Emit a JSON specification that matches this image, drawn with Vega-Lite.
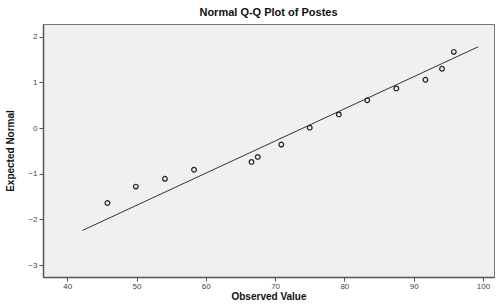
{
  "$schema": "https://vega.github.io/schema/vega-lite/v6.json",
  "autosize": "none",
  "width": 451,
  "height": 253,
  "padding": {"left": 43, "top": 24, "right": 2, "bottom": 27},
  "background": "white",
  "title": {"text": "Normal Q-Q Plot of Postes", "font": "Liberation Sans", "fontSize": 11, "fontWeight": "bold", "color": "#111", "offset": 6, "anchor": "middle"},
  "config": {
    "view": {"fill": "#F0F0F0", "stroke": "#777", "strokeWidth": 1},
    "axis": {"labelFont": "Liberation Sans", "labelFontSize": 8, "labelColor": "#444", "titleFont": "Liberation Sans", "titleFontSize": 10, "titleFontWeight": "bold", "titleColor": "#111", "domainColor": "#555", "domainWidth": 1.5, "tickColor": "#555", "tickSize": 4, "grid": false}
  },
  "layer": [
    {
      "data": {"values": [{"ox": 42.2, "oy": -2.24}, {"ox": 99.3, "oy": 1.78}]},
      "mark": {"type": "line", "color": "#333", "strokeWidth": 1},
      "encoding": {
        "x": {"field": "ox", "type": "quantitative", "scale": {"domain": [36.5, 101.6], "nice": false, "zero": false}, "axis": {"values": [40, 50, 60, 70, 80, 90, 100], "title": "Observed Value", "titlePadding": 1, "labelPadding": 1}},
        "y": {"field": "oy", "type": "quantitative", "scale": {"domain": [-3.26, 2.28], "nice": false, "zero": false}, "axis": {"values": [-3, -2, -1, 0, 1, 2], "title": "Expected Normal", "titlePadding": 12, "labelPadding": 2}}
      }
    },
    {
      "data": {"values": [
        {"observed": 45.8, "expected": -1.64},
        {"observed": 49.9, "expected": -1.28},
        {"observed": 54.1, "expected": -1.11},
        {"observed": 58.3, "expected": -0.91},
        {"observed": 66.6, "expected": -0.74},
        {"observed": 67.5, "expected": -0.63},
        {"observed": 70.9, "expected": -0.36},
        {"observed": 75.0, "expected": 0.01},
        {"observed": 79.2, "expected": 0.30},
        {"observed": 83.3, "expected": 0.61},
        {"observed": 87.5, "expected": 0.87},
        {"observed": 91.7, "expected": 1.06},
        {"observed": 94.1, "expected": 1.30},
        {"observed": 95.8, "expected": 1.67}
      ]},
      "mark": {"type": "point", "shape": "circle", "filled": false, "stroke": "#222", "strokeWidth": 1.2, "size": 22, "opacity": 1},
      "encoding": {
        "x": {"field": "observed", "type": "quantitative"},
        "y": {"field": "expected", "type": "quantitative"}
      }
    }
  ]
}
